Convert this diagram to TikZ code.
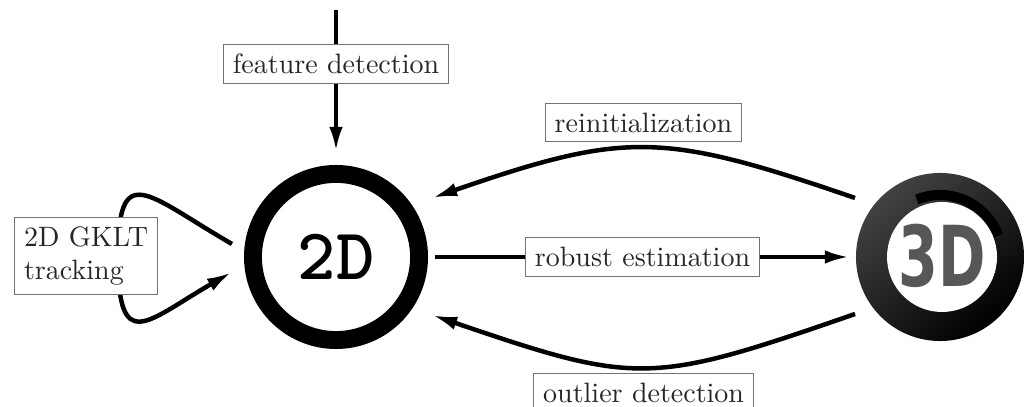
\documentclass[tikz,border=0pt]{standalone}
\usepackage{fontspec}
\usepackage{tikz}
\usetikzlibrary{shapes, arrows, arrows.meta, calc}
\newfontfamily\logofont{DejaVu Sans}
\newfontfamily\darkmono{lmmonolt10-bold}[Extension=.otf]

\begin{document}
\begin{tikzpicture}[x=0.357pt, y=0.357pt]
    \tikzstyle{flow}=[line width=1.6pt, -{Latex[length=9pt,width=4.8pt]}]
    \tikzstyle{lbl}=[rectangle, draw=black!55, line width=0.4pt, fill=white, text=black!85]
    \useasboundingbox (0,0) rectangle (1025,407);

    \node[circle, draw, line width=6.4pt, minimum size=59.3pt, inner sep=0pt] (twoD) at (336,150)
        {\fontsize{26}{26}\selectfont\darkmono 2D};

    \node[circle, minimum size=60pt, inner sep=0pt, top color=black!74, bottom color=black, shading angle=40] (threeD) at (940,150) {};
    \draw[line width=3.6pt, black] ($(threeD)+(112:62)$) arc (112:20:62);
    \fill[white] ($(threeD)+(2,0)$) circle (55);
    \node[inner sep=0pt, xscale=0.68, text=black!66, font=\fontsize{30}{30}\selectfont\logofont\bfseries] (threeDtxt) at ($(threeD)+(2,1)$) {3D};

    \coordinate (src) at (336,397);
    \draw[flow] (src) -- node[lbl, pos=0.38] (featLbl) {feature detection} ($(twoD)+(0,105)$);
    \draw[flow] ($(twoD)+(99,0)$) -- node[lbl] (robLbl) {robust estimation} ($(threeD)+(-90,0)$);
    \draw[flow] ($(threeD)+(-85,59)$) to[bend right=19, looseness=1.24]
        node[lbl, above=2pt] (reLbl) {reinitialization} ($(twoD)+(96,59)$);
    \draw[flow] ($(threeD)+(-85,-57)$) to[bend left=19, looseness=1.31]
        node[lbl, below=2pt] (outLbl) {outlier detection} ($(twoD)+(96,-58)$);

    \draw[flow] ($(twoD)+(-104,13)$) to[out=150, in=90, looseness=2.2] ($(twoD)+(-218,0)$)
        to[out=-90, in=210, looseness=2.2] ($(twoD)+(-104,-15)$);
    \node[lbl, align=left] (gklt) at (86,151) {2D GKLT\\tracking};
\end{tikzpicture}
\end{document}
